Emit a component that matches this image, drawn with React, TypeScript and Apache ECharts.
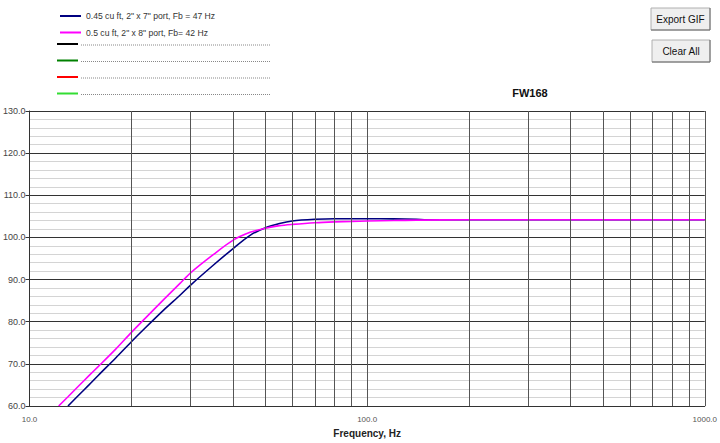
import React, { useEffect, useRef } from "react";
import * as echarts from "echarts";

const seriesNames = ['0.45 cu ft, 2" x 7" port, Fb = 47 Hz', '0.5 cu ft, 2" x 8" port, Fb= 42 Hz'];

const blueFreq = [13, 14, 15, 16, 18, 20, 22, 25, 28, 30, 35, 40, 45, 50, 55, 60, 70, 80, 90, 100, 120, 140, 150, 200, 300, 500, 700, 1000];
const blueSpl = [60.0, 62.6, 65.0, 67.3, 71.4, 75.2, 78.5, 82.8, 86.4, 88.7, 93.4, 97.3, 100.5, 102.3, 103.3, 103.9, 104.3, 104.45, 104.45, 104.45, 104.4, 104.3, 104.2, 104.2, 104.2, 104.2, 104.2, 104.2];

const pinkFreq = [12.2, 13, 14, 15, 16, 18, 20, 22, 25, 28, 30, 35, 40, 45, 50, 55, 60, 70, 80, 90, 100, 120, 140, 200, 300, 500, 700, 1000];
const pinkSpl = [60.0, 62.2, 64.8, 67.2, 69.4, 73.5, 77.4, 80.8, 85.3, 89.2, 91.6, 95.9, 99.3, 101.2, 102.2, 102.8, 103.1, 103.5, 103.7, 103.8, 103.9, 104.0, 104.1, 104.2, 104.2, 104.2, 104.2, 104.2];

const gridFreqs = [20, 30, 40, 50, 60, 70, 80, 90, 200, 300, 400, 500, 600, 700, 800, 900];
const emptyLegendColors = ["#000000", "#008000", "#ff0000", "#33dd33"];

const FONT = "'Liberation Sans', Arial, sans-serif";

export default function App() {
  const ref = useRef<HTMLDivElement>(null);
  useEffect(() => {
    if (!ref.current) return;
    const chart = echarts.init(ref.current, undefined, { renderer: "svg" });

    const emptyRows: any[] = [];
    const rowYs = [44, 60.5, 77, 93.5];
    emptyLegendColors.forEach((c, i) => {
      const y = rowYs[i];
      emptyRows.push({
        type: "line",
        shape: { x1: 57, y1: y, x2: 78, y2: y },
        style: { stroke: c, lineWidth: 2 },
      });
      emptyRows.push({
        type: "line",
        shape: { x1: 81, y1: y + 1, x2: 270, y2: y + 1 },
        style: { stroke: "#888", lineWidth: 1, lineDash: [1, 1] },
      });
    });

    const button = (x: number, y: number, w: number, h: number, label: string) => ({
      type: "group",
      children: [
        { type: "rect", shape: { x, y, width: w, height: h }, style: { fill: "#efefef", stroke: "#b0b0b0", lineWidth: 1 } },
        { type: "line", shape: { x1: x, y1: y + h, x2: x + w, y2: y + h }, style: { stroke: "#6a6a6a", lineWidth: 1 } },
        { type: "line", shape: { x1: x + w, y1: y, x2: x + w, y2: y + h }, style: { stroke: "#6a6a6a", lineWidth: 1 } },
        {
          type: "text",
          x: x + w / 2,
          y: y + h / 2,
          style: { text: label, fill: "#111", font: `10px ${FONT}`, align: "center", verticalAlign: "middle" },
        },
      ],
    });

    chart.setOption({
      animation: false,
      backgroundColor: "#ffffff",
      grid: { left: 28, right: 12, top: 111, bottom: 33 },
      legend: {
        data: seriesNames,
        orient: "vertical",
        left: 55,
        top: 5,
        itemWidth: 21,
        itemHeight: 2,
        itemGap: 4.5,
        icon: "rect",
        itemStyle: { borderWidth: 0 },
        textStyle: { fontSize: 8.6, fontFamily: FONT, color: "#333", lineHeight: 12 },
        selectedMode: false,
      },
      xAxis: {
        type: "log",
        logBase: 10,
        min: 10,
        max: 1000,
        name: "Frequency, Hz",
        nameLocation: "middle",
        nameGap: 22,
        nameTextStyle: { fontSize: 10, fontWeight: "bold", fontFamily: FONT, color: "#222" },
        axisLine: { show: true, lineStyle: { color: "#333", width: 1 } },
        axisTick: { show: false },
        axisLabel: { fontSize: 8, fontFamily: FONT, color: "#555", margin: 9, formatter: (v: number) => v.toFixed(1) },
        splitLine: { show: true, lineStyle: { color: "#555", width: 1 } },
      },
      yAxis: {
        type: "value",
        min: 60,
        max: 130,
        interval: 10,
        axisLine: { show: true, lineStyle: { color: "#333", width: 1 } },
        axisTick: { show: true, length: 4, lineStyle: { color: "#333" } },
        axisLabel: { fontSize: 9, fontFamily: FONT, color: "#444", margin: 4, formatter: (v: number) => v.toFixed(1) },
        splitLine: { show: true, lineStyle: { color: "#333", width: 1 } },
        minorTick: { show: false, splitNumber: 5 },
        minorSplitLine: { show: true, lineStyle: { color: "#d4d4d4", width: 1 } },
      },
      series: [
        {
          name: "grid",
          type: "line",
          data: [],
          silent: true,
          z: 1,
          markLine: {
            silent: true,
            symbol: ["none", "none"],
            label: { show: false },
            lineStyle: { color: "#555", type: "solid", width: 1 },
            emphasis: { disabled: true },
            data: gridFreqs.map((f) => ({ xAxis: f })),
          },
        },
        {
          name: seriesNames[0],
          type: "line",
          data: blueFreq.map((f, i) => [f, blueSpl[i]]),
          showSymbol: false,
          symbol: "none",
          smooth: 0.3,
          z: 3,
          lineStyle: { color: "#000080", width: 1.6 },
          itemStyle: { color: "#000080" },
        },
        {
          name: seriesNames[1],
          type: "line",
          data: pinkFreq.map((f, i) => [f, pinkSpl[i]]),
          showSymbol: false,
          symbol: "none",
          smooth: 0.3,
          z: 4,
          lineStyle: { color: "#ff00ff", width: 1.6 },
          itemStyle: { color: "#ff00ff" },
        },
      ],
      graphic: [
        ...emptyRows,
        button(651, 8, 59, 22, "Export GIF"),
        button(652, 40, 58, 22, "Clear All"),
        {
          type: "text",
          x: 530,
          y: 93,
          style: { text: "FW168", fill: "#111", font: `bold 11px ${FONT}`, align: "center", verticalAlign: "middle" },
        },
      ],
    });
    return () => chart.dispose();
  }, []);
  return <div ref={ref} style={{ position: "fixed", left: 0, top: 0, width: 720, height: 443 }} />;
}
